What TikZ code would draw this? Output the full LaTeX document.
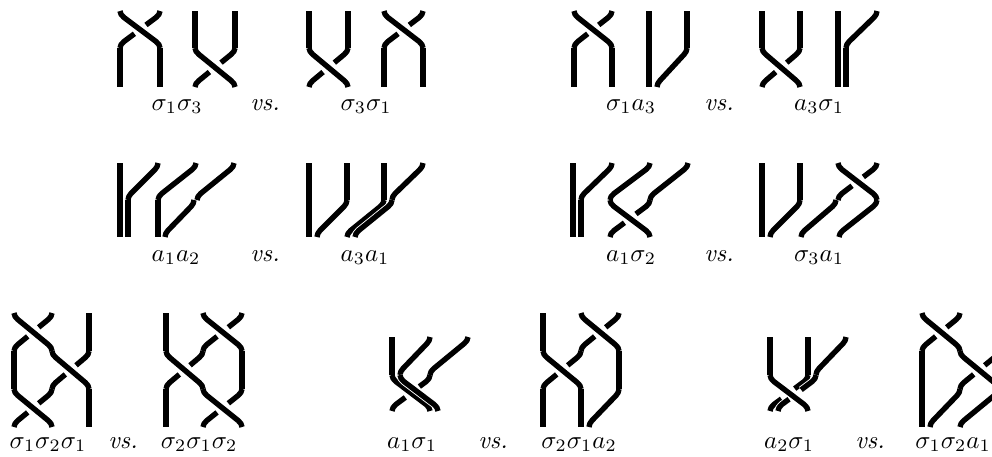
\documentclass[tikz,border=0pt]{standalone}
\usetikzlibrary{calc}
\tikzset{
  strand/.style={line width=2.15pt,line cap=butt,line join=round,black},
  casing/.style={line width=2.85pt,line cap=butt,line join=round,white},
  lab/.style={anchor=base,inner sep=0pt,outer sep=0pt}
}
% vertical piece
\newcommand{\bv}[3]{\draw[strand] (#1,#2) -- (#1,#3);}
% sigmoid path (x1,y1) -> (x2,y2)
\newcommand{\bpath}[4]{(#1,#2) .. controls (#1,#2+2.5) and ({#1+0.04*(#3-#1)},#2+4.5) .. ({#1+0.1*(#3-#1)},#2+6.5)
  -- ({#3-0.1*(#3-#1)},#4-6.5) .. controls ({#3-0.04*(#3-#1)},#4-4.5) and (#3,#4-2.5) .. (#3,#4)}
\newcommand{\bd}[4]{\draw[strand] \bpath{#1}{#2}{#3}{#4};}
% sigmoid with a thin white edge, for strands lying side by side
\newcommand{\bdc}[4]{\draw[casing] \bpath{#1}{#2}{#3}{#4};\draw[strand] \bpath{#1}{#2}{#3}{#4};}
% upper and lower parts of a broken sigmoid
\newcommand{\bup}[5]{(#1,#2) .. controls (#1,#2+2.5) and ({#1+0.04*(#3-#1)},#2+4.5) .. ({#1+0.1*(#3-#1)},#2+6.5)
  -- ($(#1,#2+3.3)!#5!(#3,#4-3.3)$)}
\newcommand{\blo}[5]{($(#1,#2+3.3)!#5!(#3,#4-3.3)$) -- ({#3-0.1*(#3-#1)},#4-6.5) .. controls ({#3-0.04*(#3-#1)},#4-4.5) and (#3,#4-2.5) .. (#3,#4)}
\newcommand{\bu}[6]{\draw[strand] \bup{#1}{#2}{#3}{#4}{#5};\draw[strand] \blo{#1}{#2}{#3}{#4}{#6};}
\newcommand{\buc}[6]{\draw[casing] \bup{#1}{#2}{#3}{#4}{#5};\draw[casing] \blo{#1}{#2}{#3}{#4}{#6};\bu{#1}{#2}{#3}{#4}{#5}{#6}}
% crossing: over strand from upper left, under strand from upper right
\newcommand{\bx}[4]{\bd{#1}{#3}{#2}{#4}\bu{#2}{#3}{#1}{#4}{0.35}{0.64}}
\begin{document}
\begin{tikzpicture}[x=0.4pt,y=-0.4pt]
\useasboundingbox (0,0) rectangle (992,456);
\clip (0,0) rectangle (992,456);
% --- row 1 ---
% s1 s3
\bx{120}{160}{11}{48}\bv{195}{11}{48}\bv{235}{11}{48}
\bv{120}{48}{87}\bv{160}{48}{87}\bx{195}{235}{48}{87}
% s3 s1
\bv{309}{11}{48}\bv{348}{11}{48}\bx{384}{423}{11}{48}
\bx{309}{348}{48}{87}\bv{384}{48}{87}\bv{423}{48}{87}
% s1 a3
\bx{574}{612}{11}{48}\bv{649}{11}{48}\bv{687}{11}{48}
\bv{574}{48}{87}\bv{612}{48}{87}\bv{649}{48}{87}\bd{687}{48}{657}{87}
% a3 s1
\bv{762}{11}{48}\bv{800}{11}{48}\bv{838}{11}{48}\bd{877}{11}{846}{48}
\bx{762}{800}{48}{87}\bv{838}{48}{87}\bv{846}{48}{87}
% --- row 2 ---
% a1 a2
\bv{120}{163}{200}\bd{158}{163}{128}{200}\bd{196}{163}{158}{200}\bd{234}{163}{197}{200}
\bv{120}{200}{237}\bv{128}{200}{237}\bv{158}{200}{237}\bd{194}{200}{165}{237}
% a3 a1
\bv{309}{163}{200}\bv{347}{163}{200}\bv{384}{163}{200}\bd{423}{163}{392}{200}
\bv{309}{200}{237}\bd{347}{200}{317}{237}\bd{384}{200}{347}{237}\bdc{392}{200}{355}{237}
% a1 s2
\bv{573}{163}{200}\bd{612}{163}{581}{200}\bd{650}{163}{610}{200}\bd{688}{163}{650}{200}
\bv{573}{200}{237}\bv{581}{200}{237}\bx{610}{650}{200}{237}
% s3 a1
\bv{762}{163}{200}\bv{800}{163}{200}\bx{838}{877}{163}{200}
\bv{762}{200}{237}\bd{800}{200}{770}{237}\bd{836}{200}{801}{237}\bd{877}{200}{839}{237}
% --- row 3 ---
% s1 s2 s1
\bx{14}{52}{313}{351}\bv{89}{313}{351}
\bv{14}{351}{389}\bx{52}{89}{351}{389}
\bx{14}{52}{389}{427}\bv{89}{389}{427}
% s2 s1 s2
\bv{166}{313}{351}\bx{203}{242}{313}{351}
\bx{166}{203}{351}{389}\bv{242}{351}{389}
\bv{166}{389}{427}\bx{203}{242}{389}{427}
% a1 s1
\bv{392}{337}{375}\bd{430}{337}{400}{375}\bd{468}{337}{430}{375}
\bd{392}{375}{430}{411}\bdc{400}{375}{438}{411}\bu{430}{375}{392}{411}{0.28}{0.65}
% s2 s1 a2
\bv{543}{313}{351}\bx{581}{619}{313}{351}
\bx{543}{581}{351}{389}\bv{619}{351}{389}
\bv{543}{389}{427}\bv{581}{389}{427}\bd{619}{389}{589}{427}
% a2 s1
\bv{770}{337}{375}\bv{808}{337}{375}\bd{846}{337}{816}{375}
\bd{770}{375}{808}{411}\bu{808}{375}{770}{411}{0.35}{0.70}\buc{816}{375}{778}{411}{0.39}{0.71}
% s1 s2 a1
\bx{922}{960}{313}{351}\bv{998}{313}{351}
\bv{922}{351}{389}\bx{960}{998}{351}{389}
\bv{922}{389}{427}\bd{960}{389}{930}{427}\bd{998}{389}{960}{427}
% --- labels ---
\node[lab] (l1) at (177,110) {$\sigma_1\sigma_3$};
\node[lab] (v1) at (265,110) {\textit{vs.}};
\node[lab] (r1) at (366,110) {$\sigma_3\sigma_1$};
\node[lab] (l2) at (631,110) {$\sigma_1a_3$};
\node[lab] (v2) at (719,110) {\textit{vs.}};
\node[lab] (r2) at (819,110) {$a_3\sigma_1$};
\node[lab] (l3) at (176,261) {$a_1a_2$};
\node[lab] (v3) at (265,261) {\textit{vs.}};
\node[lab] (r3) at (365,261) {$a_3a_1$};
\node[lab] (l4) at (631,261) {$a_1\sigma_2$};
\node[lab] (v4) at (719,261) {\textit{vs.}};
\node[lab] (r4) at (819,261) {$\sigma_3a_1$};
\node[lab] (l5) at (48,448) {$\sigma_1\sigma_2\sigma_1$};
\node[lab] (v5) at (123,448) {\textit{vs.}};
\node[lab] (r5) at (199,448) {$\sigma_2\sigma_1\sigma_2$};
\node[lab] (l6) at (412,448) {$a_1\sigma_1$};
\node[lab] (v6) at (493,448) {\textit{vs.}};
\node[lab] (r6) at (579,448) {$\sigma_2\sigma_1a_2$};
\node[lab] (l7) at (789,448) {$a_2\sigma_1$};
\node[lab] (v7) at (870,448) {\textit{vs.}};
\node[lab] (r7) at (953,448) {$\sigma_1\sigma_2a_1$};
\end{tikzpicture}
\end{document}
